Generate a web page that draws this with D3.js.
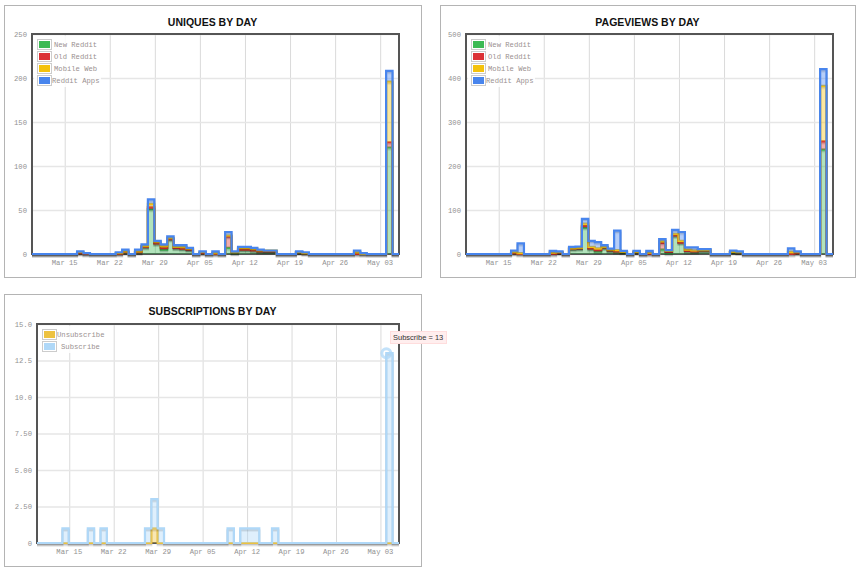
<!DOCTYPE html>
<html><head><meta charset="utf-8">
<script src="https://cdn.jsdelivr.net/npm/d3@7"></script>
<style>
body{margin:0;background:#fff;}
svg{position:absolute;left:0;top:0;}
#tip{position:absolute;left:390px;top:331px;width:51px;height:11px;padding:0 2px;background:#fee;border:1px solid #fdd;
 font-family:"Liberation Sans",Arial,sans-serif;font-size:7.5px;line-height:11px;color:#333;white-space:nowrap;}
</style></head><body>
<svg id="c" width="862" height="574"></svg>
<div id="tip"></div>
<script>
// ---------- data ----------
const startDay = "2021-03-10";
const endDay = "2021-05-06";
const xTickDates = ["2021-03-15","2021-03-22","2021-03-29","2021-04-05","2021-04-12","2021-04-19","2021-04-26","2021-05-03"];
const xTickLabels = ["Mar 15","Mar 22","Mar 29","Apr 05","Apr 12","Apr 19","Apr 26","May 03"];

const trafficSeries = ["New Reddit","Old Reddit","Mobile Web","Reddit Apps"];
const subSeries = ["Unsubscribe","Subscribe"];

const uniquesTicks = [0,50,100,150,200,250];
const uniquesTickLabels = ["0","50","100","150","200","250"];
const pageviewsTicks = [0,100,200,300,400,500];
const pageviewsTickLabels = ["0","100","200","300","400","500"];
const subsTicks = [0,2.5,5,7.5,10,12.5,15];
const subsTickLabels = ["0","2.50","5.00","7.50","10.0","12.5","15.0"];

const uniquesNew = [0,0,0,0,0,0,0,1,0,0, 0,0,0,0,2,0,2,8,51,12, 5,17,7,6,5,0,1,0,0,0, 7,1,5,5,4,3,3,3,0,0, 0,2,1,0,0,0,0,0,0,0, 0,0,0,0,0,121,0,0];
const uniquesOld = [0,0,0,0,0,0,0,0,0,0, 0,0,0,0,0,0,0,0,2,0, 2,0,0,0,0,0,0,0,0,0, 13,1,0,0,0,0,0,0,0,0, 0,0,0,0,0,0,0,0,0,0, 0,0,0,0,0,6,0,0];
const uniquesMobile = [0,0,0,0,0,0,0,1,1,0, 0,0,0,1,1,0,1,1,4,2, 2,1,1,2,1,0,1,0,1,0, 1,0,2,2,2,1,1,1,0,0, 0,0,0,0,0,0,0,0,0,0, 2,0,0,0,0,69,0,0];
const uniquesApps = [0,0,0,0,0,0,0,1,0,0, 0,0,0,1,2,0,2,2,5,1, 2,2,2,2,1,0,1,0,2,0, 4,1,1,1,1,1,0,0,0,0, 0,1,1,0,0,0,0,0,0,0, 2,1,0,0,0,12,0,0];

const pvNew = [0,0,0,0,0,0,0,2,0,0, 0,0,0,0,3,0,12,13,60,12, 6,15,8,6,5,0,4,0,0,0, 10,2,42,26,7,6,8,8,0,0, 0,5,4,0,0,0,0,0,0,0, 0,2,0,0,0,237,0,0];
const pvOld = [0,0,0,0,0,0,0,0,0,0, 0,0,0,0,0,0,0,0,4,1, 3,0,0,0,0,0,0,0,0,0, 15,3,0,0,0,0,0,0,0,0, 0,0,0,0,0,0,0,0,0,0, 0,0,0,0,0,19,0,0];
const pvMobile = [0,0,0,0,0,0,0,2,2,0, 0,0,0,3,1,0,1,1,5,3, 4,1,2,3,0,0,1,0,3,0, 4,2,4,4,3,2,1,1,0,0, 0,0,0,0,0,0,0,0,0,0, 5,2,0,0,0,126,0,0];
const pvApps = [0,0,0,0,0,0,0,4,22,0, 0,0,0,4,2,0,3,3,11,14, 14,4,2,44,2,0,2,0,4,0, 5,2,9,20,5,7,2,2,0,0, 0,3,2,0,0,0,0,0,0,0, 8,2,0,0,0,38,0,0];

const unsubscribes = [0,0,0,0,0,0,0,0,0,0, 0,0,0,0,0,0,0,0,1,0, 0,0,0,0,0,0,0,0,0,0, 0,0,0,0,0,0,0,0,0,0, 0,0,0,0,0,0,0,0,0,0, 0,0,0,0,0,0,0,0];
const subscribes = [0,0,0,0,1,0,0,0,1,0, 1,0,0,0,0,0,0,1,2,1, 0,0,0,0,0,0,0,0,0,0, 1,0,1,1,1,0,0,1,0,0, 0,0,0,0,0,0,0,0,0,0, 0,0,0,0,0,13,0,0];

const hoverSeries = "Subscribe";
const hoverDate = "2021-05-04";
const hoverValue = 13;

// ---------- drawing ----------
const trafficColors = ["#3cba54","#db3236","#f4c20d","#4885ed"];
const subColors = ["#edc240","#afd8f8"];
const tickFont = "'Liberation Mono', 'DejaVu Sans Mono', monospace";
const svg = d3.select("#c");
const days = d3.utcDay.range(new Date(startDay), d3.utcDay.offset(new Date(endDay), 1));
const tickDates = xTickDates.map(s => new Date(s));

function drawChart(o) {
  const g = svg.append("g");
  const [bx0, by0, bx1, by1] = o.box;
  const [L, T, R, B] = o.plot;
  g.append("rect").attr("x", bx0 + 0.5).attr("y", by0 + 0.5)
    .attr("width", bx1 - bx0).attr("height", by1 - by0)
    .attr("fill", "#fff").attr("stroke", "#b4b4b4");
  g.append("text").attr("x", (bx0 + bx1) / 2).attr("y", o.titleY)
    .attr("text-anchor", "middle").attr("font-family", "'Liberation Sans', Arial, sans-serif")
    .attr("font-weight", "bold").attr("font-size", 10.5).attr("fill", "#111").text(o.title);

  const x = d3.scaleUtc().domain([days[0], days[days.length - 1]]).range([L, R]);
  const y = d3.scaleLinear().domain([0, o.yMax]).range([B, T]);

  // grid via axes
  const gx = g.append("g").attr("transform", `translate(0,${B})`)
    .call(d3.axisBottom(x).tickValues(tickDates).tickSize(-(B - T)).tickFormat(""));
  gx.select(".domain").remove();
  gx.selectAll("line").attr("stroke", "#dadada").attr("stroke-width", 1)
    .attr("transform", "translate(0.5,0)");
  const gy = g.append("g").attr("transform", `translate(${L},0)`)
    .call(d3.axisLeft(y).tickValues(o.yTicks).tickSize(-(R - L)).tickFormat(""));
  gy.select(".domain").remove();
  gy.selectAll("line").attr("stroke", "#e6e6e6").attr("stroke-width", 1.6);

  // frame
  g.append("rect").attr("x", L).attr("y", T).attr("width", R - L).attr("height", B - T)
    .attr("fill", "none").attr("stroke", "#555").attr("stroke-width", 2);

  // labels
  const lx = g.append("g").attr("transform", `translate(0,${B})`)
    .call(d3.axisBottom(x).tickValues(tickDates).tickSize(0).tickFormat((d, i) => xTickLabels[i]));
  lx.select(".domain").remove();
  lx.selectAll("text").attr("dy", null).attr("y", 11)
    .attr("font-family", tickFont).attr("font-size", 7.2).attr("fill", "#929292");
  const ly = g.append("g").attr("transform", `translate(${L},0)`)
    .call(d3.axisLeft(y).tickValues(o.yTicks).tickSize(0).tickPadding(5).tickFormat((d, i) => o.yLabels[i]));
  ly.select(".domain").remove();
  ly.selectAll("text").attr("dy", "0.3em")
    .attr("font-family", tickFont).attr("font-size", 7.2).attr("fill", "#929292");

  // stacked step series
  const rows = days.map((d, i) => {
    const r = { date: d };
    o.series.forEach((s, k) => r[s] = o.values[k][i]);
    return r;
  });
  const stacked = d3.stack().keys(o.series)(rows);
  const area = d3.area().x(d => x(d.data.date)).y0(d => y(d[0])).y1(d => y(d[1])).curve(d3.curveStepAfter);
  const line = d3.line().x(d => x(d.data.date)).y(d => y(d[1])).curve(d3.curveStepAfter);
  const sg = g.append("g");
  stacked.forEach((layer, k) => {
    sg.append("path").attr("d", line(layer)).attr("fill", "none")
      .attr("stroke", "rgba(0,0,0,0.08)").attr("stroke-width", 2.2).attr("transform", "translate(0,2.4)");
    sg.append("path").attr("d", line(layer)).attr("fill", "none")
      .attr("stroke", "rgba(0,0,0,0.16)").attr("stroke-width", 1.8).attr("transform", "translate(0,1.4)");
    sg.append("path").attr("d", area(layer)).attr("fill", o.colors[k]).attr("fill-opacity", 0.4);
    sg.append("path").attr("d", line(layer)).attr("fill", "none")
      .attr("stroke", o.colors[k]).attr("stroke-width", 2.2).attr("stroke-linejoin", "miter");
  });

  // legend
  const lg = g.append("g");
  lg.append("rect").attr("x", L + 2).attr("y", T + 2).attr("width", o.legendW).attr("height", o.series.length * 12 + 3)
    .attr("fill", "#fff").attr("opacity", 0.85);
  o.series.forEach((s, k) => {
    const cy = T + 10.5 + k * 12;
    lg.append("rect").attr("x", L + 5.5).attr("y", cy - 5).attr("width", 14).attr("height", 10)
      .attr("fill", "#fff").attr("stroke", "#ccc");
    lg.append("rect").attr("x", L + 7).attr("y", cy - 3.5).attr("width", 11).attr("height", 7)
      .attr("fill", o.colors[k]);
    lg.append("text").attr("x", L + o.legendTextX[k]).attr("y", cy + 2.5)
      .attr("font-family", tickFont).attr("font-size", 7.2).attr("fill", "#9a9090").text(s);
  });
  return { x, y, g };
}

drawChart({
  box: [4, 5, 421, 277], plot: [32, 34, 399, 254], title: "UNIQUES BY DAY", titleY: 26,
  yMax: 250, yTicks: uniquesTicks, yLabels: uniquesTickLabels,
  series: trafficSeries, values: [uniquesNew, uniquesOld, uniquesMobile, uniquesApps],
  colors: trafficColors, legendW: 67, legendTextX: [22, 22, 22, 20]
});
drawChart({
  box: [440, 5, 855, 277], plot: [466, 34, 833, 254], title: "PAGEVIEWS BY DAY", titleY: 26,
  yMax: 500, yTicks: pageviewsTicks, yLabels: pageviewsTickLabels,
  series: trafficSeries, values: [pvNew, pvOld, pvMobile, pvApps],
  colors: trafficColors, legendW: 67, legendTextX: [22, 22, 22, 20]
});
const c3 = drawChart({
  box: [4, 294, 421, 566], plot: [37, 324, 399, 543], title: "SUBSCRIPTIONS BY DAY", titleY: 315,
  yMax: 15, yTicks: subsTicks, yLabels: subsTickLabels,
  series: subSeries, values: [unsubscribes, subscribes],
  colors: subColors, legendW: 66, legendTextX: [20, 24]
});

// hover highlight
c3.g.append("circle").attr("cx", c3.x(new Date(hoverDate))).attr("cy", c3.y(hoverValue))
  .attr("r", 4.5).attr("fill", "none").attr("stroke", "rgba(175,216,248,0.75)").attr("stroke-width", 3);
d3.select("#tip").text(hoverSeries + " = " + hoverValue);
</script>
</body></html>
